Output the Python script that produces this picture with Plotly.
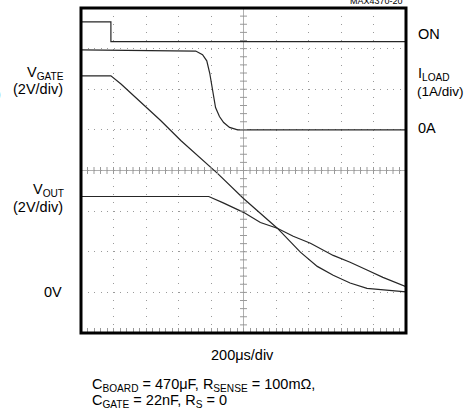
import numpy as np
import plotly.graph_objects as go

# ---- data (in scope divisions: x 0..10, y 0..8) ----
on_x = [0, 0.92, 0.92, 10]
on_y = [7.66, 7.66, 7.17, 7.17]

iload_x = [0, 3.53, 3.74, 3.87, 3.96, 4.05, 4.14, 4.26, 4.39, 4.57, 4.82, 10]
iload_y = [6.97, 6.94, 6.85, 6.70, 6.40, 5.96, 5.55, 5.33, 5.18, 5.06, 5.0, 5.0]

vgate_x = [0, 0.92, 1.23, 1.84, 2.45, 3.07, 4.20, 5.0, 6.04, 6.75, 7.27, 7.76, 8.28, 8.80, 9.29, 10]
vgate_y = [6.33, 6.33, 6.13, 5.69, 5.23, 4.74, 3.93, 3.31, 2.58, 1.99, 1.64, 1.42, 1.23, 1.10, 1.06, 1.01]

vout_x = [0, 3.93, 4.36, 5.0, 5.52, 6.04, 6.53, 7.06, 7.76, 8.28, 8.80, 9.29, 10]
vout_y = [3.36, 3.36, 3.21, 2.97, 2.72, 2.58, 2.38, 2.21, 1.91, 1.74, 1.55, 1.37, 1.14]

X_DIVS = 10
Y_DIVS = 8

FONT = "Liberation Sans, Arial, sans-serif"
TRACE = "#262626"
GRID = "#9a9a9a"

fig = go.Figure()
for xs, ys in [(on_x, on_y), (iload_x, iload_y), (vgate_x, vgate_y), (vout_x, vout_y)]:
    fig.add_trace(go.Scatter(x=xs, y=ys, mode="lines",
                             line=dict(color=TRACE, width=1.2), hoverinfo="skip"))

# center crosshair tick marks
tx = np.arange(0, X_DIVS + 0.001, 0.2)
ty = np.arange(0, Y_DIVS + 0.001, 0.2)
fig.add_trace(go.Scatter(x=tx, y=[Y_DIVS / 2] * len(tx), mode="markers",
                         marker=dict(symbol="line-ns-open", size=5, color=GRID,
                                     line=dict(color=GRID, width=1)),
                         hoverinfo="skip"))
fig.add_trace(go.Scatter(x=[X_DIVS / 2] * len(ty), y=ty, mode="markers",
                         marker=dict(symbol="line-ew-open", size=5, color=GRID,
                                     line=dict(color=GRID, width=1)),
                         hoverinfo="skip"))

fig.add_shape(type="line", x0=0, x1=X_DIVS, y0=Y_DIVS / 2, y1=Y_DIVS / 2,
              line=dict(color="#b0b0b0", width=1), layer="below")
fig.add_shape(type="line", x0=X_DIVS / 2, x1=X_DIVS / 2, y0=0, y1=Y_DIVS,
              line=dict(color="#b0b0b0", width=1), layer="below")
fig.add_shape(type="rect", xref="paper", yref="paper", x0=0, x1=1, y0=0, y1=1,
              line=dict(color="black", width=3))

fig.update_xaxes(range=[0, X_DIVS], dtick=1, showgrid=True, gridcolor=GRID,
                 griddash="1px,7.1px", gridwidth=1, zeroline=False,
                 showticklabels=False, ticks="inside", ticklen=5, tickcolor=GRID,
                 minor=dict(dtick=0.2, ticks="inside", ticklen=5, tickcolor=GRID,
                            showgrid=False),
                 showline=False, fixedrange=True)
fig.update_yaxes(range=[0, Y_DIVS], dtick=1, showgrid=True, gridcolor=GRID,
                 griddash="1px,5.5px", gridwidth=1, zeroline=False,
                 showticklabels=False, ticks="", showline=False, fixedrange=True)

W, H = 467, 416
L, R, T, B = 81, 61, 8, 83
PW, PH = W - L - R, H - T - B


def px(x):
    return (x - L) / PW


def py(y):
    return (H - B - y) / PH


def label(text, x, y, xanchor, size=14.5):
    fig.add_annotation(text=text, x=px(x), y=py(y), xref="paper", yref="paper",
                       xanchor=xanchor, yanchor="middle", showarrow=False,
                       font=dict(family=FONT, size=size, color="#000"))


label("V<sub>GATE</sub>", 66, 73, "right")
label("(2V/div)", 65, 89, "right")
label("V<sub>OUT</sub>", 66, 190, "right")
label("(2V/div)", 65, 207, "right")
label("0V", 64, 292, "right")
label(")", 3, 94, "right")
label("ON", 416, 34, "left")
label("I<sub>LOAD</sub>", 416, 74, "left")
label("(1A/div)", 415, 92, "left", size=13.5)
label("0A", 416, 128, "left")
label("200\u03bcs/div", 242, 355, "center")
label("C<sub>BOARD</sub> = 470\u03bcF, R<sub>SENSE</sub> = 100m\u03a9,", 90, 385, "left")
label("C<sub>GATE</sub> = 22nF, R<sub>S</sub> = 0", 90, 401, "left")
label("MAX4370-20", 405, 1, "right", size=9)

fig.update_layout(width=W, height=H,
                  margin=dict(l=L, r=R, t=T, b=B, autoexpand=False),
                  paper_bgcolor="white", plot_bgcolor="white",
                  showlegend=False)

fig.write_html("out.html", config={"displayModeBar": False},
               post_script="document.body.style.margin='0';document.body.style.padding='0';")
